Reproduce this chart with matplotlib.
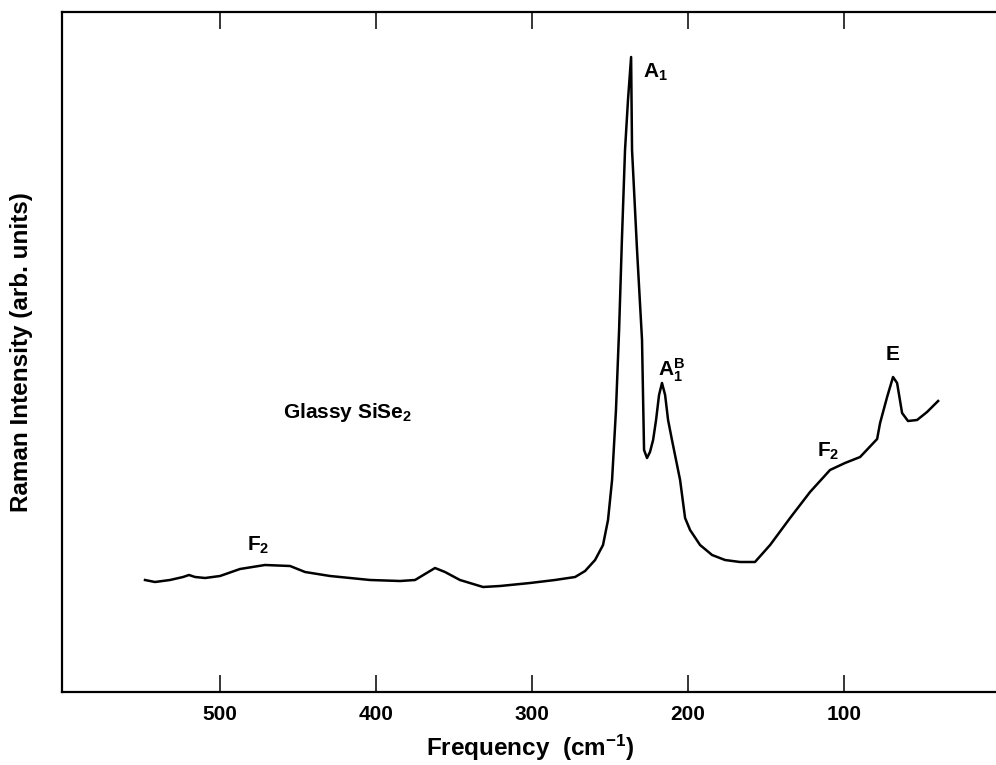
import numpy as np
import matplotlib
matplotlib.use("Agg")
from matplotlib import pyplot as plt

plt.rcParams['font.family'] = ['Liberation Sans', 'DejaVu Sans']
plt.rcParams['font.weight'] = 'bold'
plt.rcParams['mathtext.fontset'] = 'custom'
plt.rcParams['mathtext.bf'] = 'Liberation Sans:bold'
plt.rcParams['mathtext.rm'] = 'Liberation Sans:bold'
plt.rcParams['mathtext.default'] = 'bf'

# Raman spectrum of glassy SiSe2
freq = [548.1, 541.7, 532.1, 523.7, 519.9, 516.0, 509.6, 500.0, 487.2, 471.2,
        455.1, 445.5, 429.5, 403.8, 384.6, 375.0, 368.6, 362.2, 355.8, 346.2,
        331.4, 320.5, 301.3, 285.3, 272.4, 266.0, 259.6, 254.5, 251.3, 248.7,
        246.2, 244.2, 242.4, 240.4, 238.5, 236.5, 235.9, 232.7, 229.5, 228.8,
        228.2, 226.3, 224.4, 222.4, 220.5, 218.6, 216.7, 214.7, 212.8, 210.3,
        207.7, 205.1, 201.9, 198.7, 192.3, 184.6, 176.3, 166.7, 157.1, 147.4,
        134.6, 121.8, 109.0, 99.4, 89.7, 78.8, 76.9, 72.4, 68.6, 66.0,
        62.8, 59.0, 53.2, 46.8, 39.7]
intensity = [112, 110, 112, 115, 117, 115, 114, 116, 123, 127,
             126, 120, 116, 112, 111, 112, 118, 124, 120, 112,
             105, 106, 109, 112, 115, 121, 132, 147, 172, 212,
             282, 362, 452, 542, 592, 635, 542, 442, 352, 292,
             242, 234, 240, 252, 272, 297, 309, 297, 272, 252,
             232, 212, 174, 162, 147, 137, 132, 130, 130, 147,
             174, 200, 222, 229, 235, 253, 269, 295, 315, 309,
             279, 271, 272, 280, 291]

xticks = [500, 400, 300, 200, 100]

# peak labels: (text, freq, intensity, ha)
labels = [
    ("A$_1$", 228.8, 620, "left"),
    ("A$_1^B$", 219.5, 322, "left"),
    ("E", 68.6, 337, "center"),
    ("F$_2$", 117.5, 241, "left"),
    ("F$_2$", 482.5, 147, "left"),
    ("Glassy SiSe$_2$", 459.6, 280, "left"),
]

fig = plt.figure(figsize=(9.96, 7.65), dpi=100)
ax = fig.add_axes([62 / 996, 73 / 765, 934 / 996, 680 / 765])

ax.plot(freq, intensity, color="black", lw=1.8, solid_joinstyle="round")

ax.set_xlim(601.3, 2.6)
ax.set_ylim(0, 680)
ax.set_xticks(xticks)
ax.set_xticklabels([str(t) for t in xticks], fontsize=15, fontweight="bold")
ax.set_yticks([])
ax.tick_params(axis="x", direction="in", length=12, width=1.1, pad=9,
               top=True, bottom=True)
ax.spines["right"].set_visible(False)
for s in ["left", "top", "bottom"]:
    ax.spines[s].set_linewidth(1.6)

for txt, fx, fy, ha in labels:
    ax.text(fx, fy, txt, fontsize=15, fontweight="bold", ha=ha, va="center")

fig.text(530 / 996, 1 - 748 / 765, "Frequency  (cm$^{-1}$)", fontsize=17.5,
         fontweight="bold", ha="center", va="center")
fig.text(22 / 996, 1 - 352 / 765, "Raman Intensity (arb. units)", fontsize=17.5,
         fontweight="bold", ha="center", va="center", rotation=90)

plt.savefig("out.png", dpi=100)
